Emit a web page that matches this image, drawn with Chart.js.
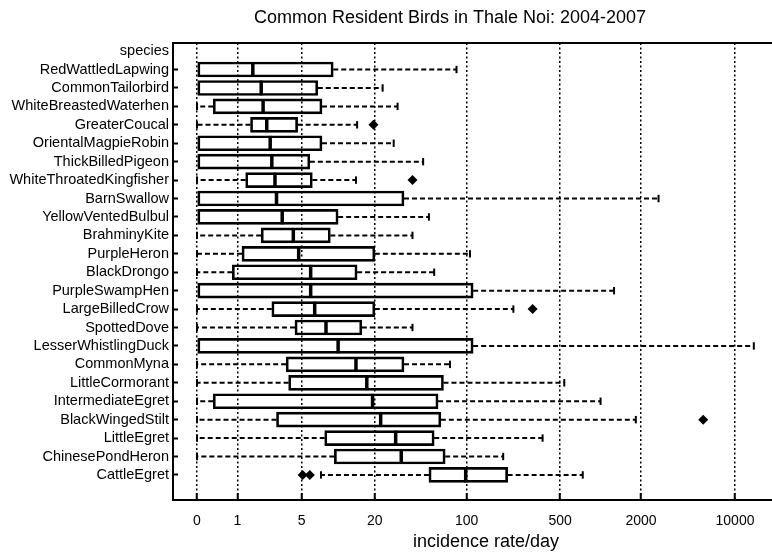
<!DOCTYPE html>
<html>
<head>
<meta charset="utf-8">
<title>Common Resident Birds in Thale Noi: 2004-2007</title>
<script src="https://cdn.jsdelivr.net/npm/chart.js@4.4.1/dist/chart.umd.min.js"></script>
<style>
  html, body { margin: 0; padding: 0; background: #fff; }
  #wrap { width: 772px; height: 553px; }
</style>
</head>
<body>
<div id="wrap"><canvas id="birdChart"></canvas></div>
<script>
const TITLE = 'Common Resident Birds in Thale Noi: 2004-2007';
const X_TITLE = 'incidence rate/day';
const Y_TITLE = 'species';

const SPECIES = [
    'RedWattledLapwing', 'CommonTailorbird', 'WhiteBreastedWaterhen', 'GreaterCoucal',
    'OrientalMagpieRobin', 'ThickBilledPigeon', 'WhiteThroatedKingfisher', 'BarnSwallow',
    'YellowVentedBulbul', 'BrahminyKite', 'PurpleHeron', 'BlackDrongo', 'PurpleSwampHen',
    'LargeBilledCrow', 'SpottedDove', 'LesserWhistlingDuck', 'CommonMyna', 'LittleCormorant',
    'IntermediateEgret', 'BlackWingedStilt', 'LittleEgret', 'ChinesePondHeron', 'CattleEgret'
];

// five-number summaries (incidence rate/day)
const LOW    = [0, 0, 0, 0, 0, 0, 0, 0, 0, 0, 0, 0, 0, 0, 0, 0, 0, 0, 0, 0, 0, 0, 7.35];
const Q1     = [0, 0, 0.32, 1.5, 0, 0, 1.3, 0, 0, 2.0, 1.16, 0.83, 0, 2.6, 4.35, 0, 3.6, 3.8, 0.32, 2.9, 7.9, 9.5, 52];
const MEDIAN = [1.6, 2.0, 2.1, 2.3, 2.5, 2.6, 2.8, 2.9, 3.3, 4.2, 4.7, 6.0, 6.0, 6.5, 8.1, 10.2, 14.2, 17.3, 19.2, 22.2, 29, 32, 98.5];
const Q3     = [9.3, 6.9, 7.5, 4.6, 7.5, 5.9, 6.2, 33.6, 10.2, 8.8, 20, 14.5, 112, 20, 15.8, 112, 33.6, 67, 61, 64, 57, 69, 203];
const HIGH   = [84, 23, 30, 14.5, 28, 47, 14.2, 2700, 52, 39, 106, 57, 1260, 224, 39, 13800, 75, 537, 1000, 1830, 370, 188, 737];
const OUTLIERS = [
    [], [], [], [19.5], [], [], [39], [], [], [], [], [], [],
    [312], [], [], [], [], [], [5800], [], [], [5.1, 5.9]
];

const X_TICKS = [0, 1, 5, 20, 100, 500, 2000, 10000];

const FONT = '"Liberation Sans", Arial, sans-serif';

// axis drawn on log10(x + 1), so that 0 can sit on it
const log1p = v => Math.log10(v + 1);

class Log1pScale extends Chart.Scale {
    determineDataLimits() {
        this.min = this.options.min;
        this.max = this.options.max;
    }
    buildTicks() {
        return X_TICKS.map(v => ({ value: v }));
    }
    getLabelForValue(v) {
        return String(v);
    }
    configure() {
        super.configure();
        this._lo = log1p(this.min);
        this._span = log1p(this.max) - this._lo;
    }
    getPixelForValue(v) {
        if (v === null || v === undefined || isNaN(v)) return NaN;
        return this.getPixelForDecimal((log1p(v) - this._lo) / this._span);
    }
    getValueForPixel(p) {
        return Math.pow(10, this._lo + this.getDecimalForPixel(p) * this._span) - 1;
    }
}
Log1pScale.id = 'log1p';
Log1pScale.defaults = {};
Chart.register(Log1pScale);

const rowOf = i => i + 1;

const boxes = SPECIES.map((_, i) => ({ x: [Q1[i], Q3[i]], y: rowOf(i) }));
const medians = SPECIES.map((_, i) => ({ x: MEDIAN[i], y: rowOf(i) }));

const upperWhiskers = [];
const lowerWhiskers = [];
const caps = [];
SPECIES.forEach((_, i) => {
    upperWhiskers.push({ x: Q3[i], y: rowOf(i) }, { x: HIGH[i], y: rowOf(i) }, { x: null, y: null });
    caps.push({ x: HIGH[i], y: rowOf(i) });
    if (Q1[i] > LOW[i]) {
        lowerWhiskers.push({ x: Q1[i], y: rowOf(i) }, { x: LOW[i], y: rowOf(i) }, { x: null, y: null });
        caps.push({ x: LOW[i], y: rowOf(i) });
    }
});

const outliers = [];
OUTLIERS.forEach((list, i) => list.forEach(v => outliers.push({ x: v, y: rowOf(i) })));

const whiskerStyle = {
    type: 'line',
    borderColor: '#000',
    borderWidth: 2,
    borderDash: [5, 3],
    pointRadius: 0,
    fill: false,
    spanGaps: false,
    tension: 0
};

// title, axis title and the top edge of the frame
const framePlugin = {
    id: 'frame',
    afterDraw(chart) {
        const { ctx, chartArea } = chart;
        ctx.save();
        ctx.strokeStyle = '#000';
        ctx.lineWidth = 2;
        ctx.beginPath();
        ctx.moveTo(chartArea.left - 1, chartArea.top);
        ctx.lineTo(chartArea.right, chartArea.top);
        ctx.stroke();

        ctx.fillStyle = '#000';
        ctx.textAlign = 'center';
        ctx.textBaseline = 'alphabetic';
        ctx.font = '18px ' + FONT;
        ctx.fillText(TITLE, 450, 23);
        ctx.fillText(X_TITLE, 486, 547);
        ctx.restore();
    }
};

new Chart(document.getElementById('birdChart'), {
    type: 'bar',
    data: {
        datasets: [
            {
                type: 'bar',
                indexAxis: 'y',
                data: boxes,
                backgroundColor: 'rgba(0,0,0,0)',
                borderColor: '#000',
                borderWidth: 2,
                borderSkipped: false,
                barThickness: 15,
                order: 3
            },
            Object.assign({ data: upperWhiskers, order: 4 }, whiskerStyle),
            Object.assign({ data: lowerWhiskers, order: 4 }, whiskerStyle),
            {
                type: 'scatter',
                data: caps,
                pointStyle: 'line',
                rotation: 90,
                radius: 3.7,
                borderWidth: 2,
                borderColor: '#000',
                order: 2
            },
            {
                type: 'scatter',
                data: medians,
                pointStyle: 'line',
                rotation: 90,
                radius: 7.4,
                borderWidth: 3.5,
                borderColor: '#000',
                order: 1
            },
            {
                type: 'scatter',
                data: outliers,
                pointStyle: 'rectRot',
                radius: 5,
                borderWidth: 0,
                backgroundColor: '#000',
                borderColor: '#000',
                order: 0
            }
        ]
    },
    options: {
        responsive: true,
        maintainAspectRatio: false,
        animation: false,
        events: [],
        layout: { autoPadding: false, padding: { top: 43, right: 0, bottom: 0, left: 0 } },
        plugins: {
            legend: { display: false },
            tooltip: { enabled: false },
            title: { display: false }
        },
        scales: {
            x: {
                type: 'log1p',
                position: 'bottom',
                min: -0.337,
                max: 18840,
                offset: false,
                grid: {
                    display: true,
                    offset: false,
                    color: '#000',
                    lineWidth: 1.5,
                    drawTicks: true,
                    tickLength: -7,
                    tickWidth: 2,
                    tickColor: '#000'
                },
                border: { display: true, color: '#000', width: 2, dash: [2, 2.5] },
                ticks: {
                    autoSkip: false,
                    maxRotation: 0,
                    padding: 20,
                    color: '#000',
                    font: { family: FONT, size: 14 }
                },
                afterFit: scale => {
                    scale.height = 53;
                    scale.paddingLeft = 0;
                    scale.paddingRight = 0;
                }
            },
            y: {
                type: 'linear',
                position: 'left',
                reverse: true,
                min: -0.44,
                max: 24.36,
                bounds: 'data',
                offset: false,
                grid: {
                    display: true,
                    offset: false,
                    drawOnChartArea: false,
                    drawTicks: true,
                    tickLength: -5,
                    tickWidth: 2,
                    tickColor: c => (c.tick && c.tick.value === 0 ? 'rgba(0,0,0,0)' : '#000')
                },
                border: { display: true, color: '#000', width: 2 },
                ticks: {
                    autoSkip: false,
                    padding: 9,
                    color: '#000',
                    font: { family: FONT, size: 14.5 },
                    callback: v => (v === 0 ? Y_TITLE : SPECIES[v - 1])
                },
                afterBuildTicks: axis => {
                    axis.ticks = [0].concat(SPECIES.map((_, i) => rowOf(i))).map(v => ({ value: v }));
                },
                afterFit: scale => {
                    scale.width = 173;
                    scale.paddingTop = 0;
                    scale.paddingBottom = 0;
                }
            }
        }
    },
    plugins: [framePlugin]
});
</script>
</body>
</html>
